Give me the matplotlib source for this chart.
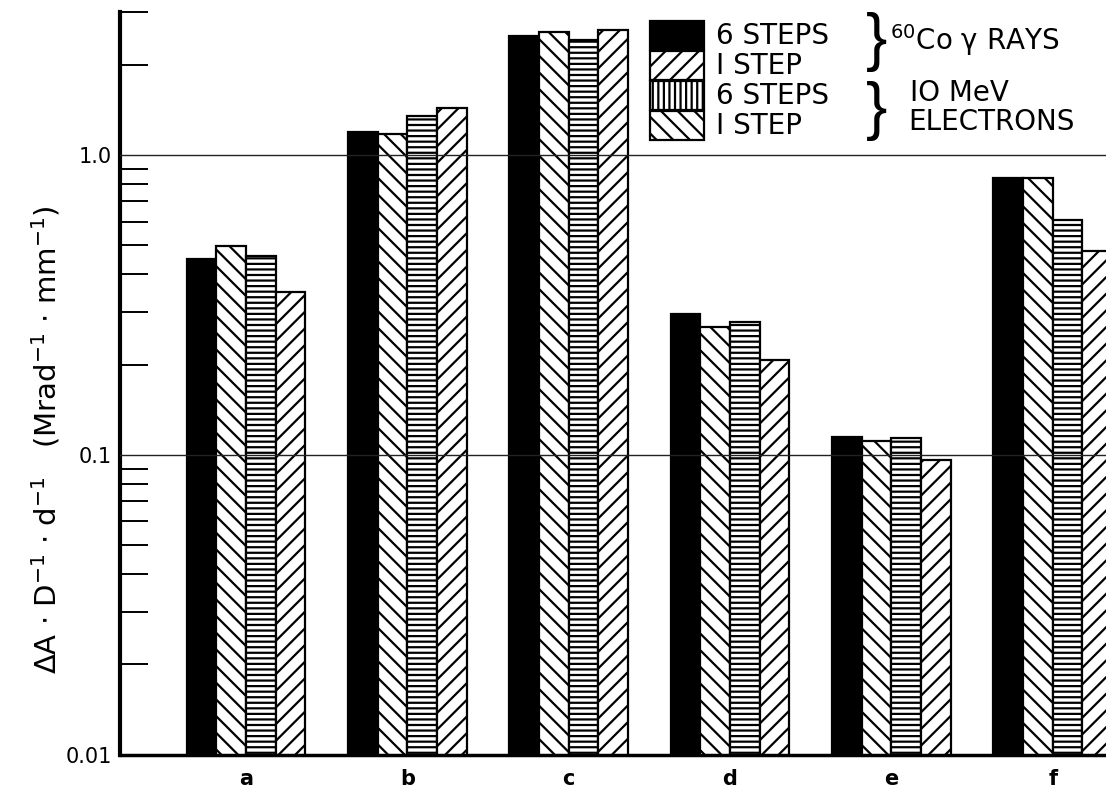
import numpy as np
import matplotlib.pyplot as plt
from matplotlib.patches import Rectangle
from matplotlib.ticker import FixedLocator, NullFormatter

plt.rcParams['font.family'] = ['DejaVu Sans']
plt.rcParams['hatch.linewidth'] = 1.6
plt.rcParams['mathtext.default'] = 'regular'

# data
groups = ['a', 'b', 'c', 'd', 'e', 'f']
co_6steps = [0.450, 1.19, 2.49, 0.295, 0.114, 0.838]
co_1step = [0.497, 1.17, 2.57, 0.265, 0.110, 0.838]
el_6steps = [0.461, 1.35, 2.42, 0.277, 0.113, 0.607]
el_1step = [0.347, 1.43, 2.61, 0.206, 0.0955, 0.479]

series = [co_6steps, co_1step, el_6steps, el_1step]
bar_hatch = [None, '\\\\', '---', '//']
bar_face = ['black', 'white', 'white', 'white']

fig = plt.figure(figsize=(11.06, 7.92), dpi=100)
ax = fig.add_axes([0.1085, 0.047, 0.8915, 0.938])

x = np.arange(len(groups))
w = 0.184
for k, vals in enumerate(series):
    ax.bar(x + (k - 1.5) * w, vals, w, bottom=0.001, color=bar_face[k],
           edgecolor='black', linewidth=1.6, hatch=bar_hatch[k], zorder=2)

ax.set_yscale('log')
ax.set_ylim(0.01, 3.0)
ax.set_xlim(-0.781, 5.33)

for g in [0.1, 1.0]:
    ax.axhline(g, color='#222222', lw=1.0, zorder=3)

ax.yaxis.set_major_locator(FixedLocator([0.01, 0.1, 1.0]))
ax.set_yticklabels(['0.01', '0.1', '1.0'], fontsize=15)
minors = [m * 10.0 ** e for e in (-2, -1, 0) for m in range(2, 10)]
ax.yaxis.set_minor_locator(FixedLocator(minors))
ax.yaxis.set_minor_formatter(NullFormatter())
ax.tick_params(axis='y', which='major', length=0, pad=6)
ax.tick_params(axis='y', which='minor', direction='in', length=20, width=1.4)

ax.set_xticks(x)
ax.set_xticklabels(groups, fontsize=15, fontweight='bold')
ax.tick_params(axis='x', length=0, pad=10)

ax.spines['top'].set_visible(False)
ax.spines['right'].set_visible(False)
ax.spines['left'].set_linewidth(3)
ax.spines['bottom'].set_linewidth(2.5)

fig.text(46 / 1106, 1 - 440 / 792,
         r'$\Delta$A $\cdot$ D$^{-1}$ $\cdot$ d$^{-1}$   (Mrad$^{-1}$ $\cdot$ mm$^{-1}$)',
         rotation=90, ha='center', va='center', fontsize=21)

# legend drawn by hand
leg_labels = ['6 STEPS', 'I STEP', '6 STEPS', 'I STEP']
leg_hatch = [None, '//', '|||', '\\\\']
W, H = 1106.0, 792.0
for i in range(4):
    top = 21 + 30 * i
    fig.add_artist(Rectangle((650 / W, 1 - (top + 29) / H), 54 / W, 29 / H,
                             transform=fig.transFigure, facecolor=bar_face[i],
                             edgecolor='black', linewidth=1.6, hatch=leg_hatch[i]))
    fig.text(716 / W, 1 - (top + 15) / H, leg_labels[i], fontsize=20,
             ha='left', va='center')

for yc in (42, 111):
    fig.text(866 / W, 1 - yc / H, '}', fontsize=46, family='Liberation Sans',
             ha='left', va='center')
fig.text(890 / W, 1 - 40 / H, r'$^{60}$Co $\gamma$ RAYS', fontsize=20,
         ha='left', va='center')
fig.text(910 / W, 1 - 93 / H, 'IO MeV', fontsize=20, ha='left', va='center')
fig.text(908 / W, 1 - 122 / H, 'ELECTRONS', fontsize=20, ha='left', va='center')

fig.savefig('out.png', dpi=100)
